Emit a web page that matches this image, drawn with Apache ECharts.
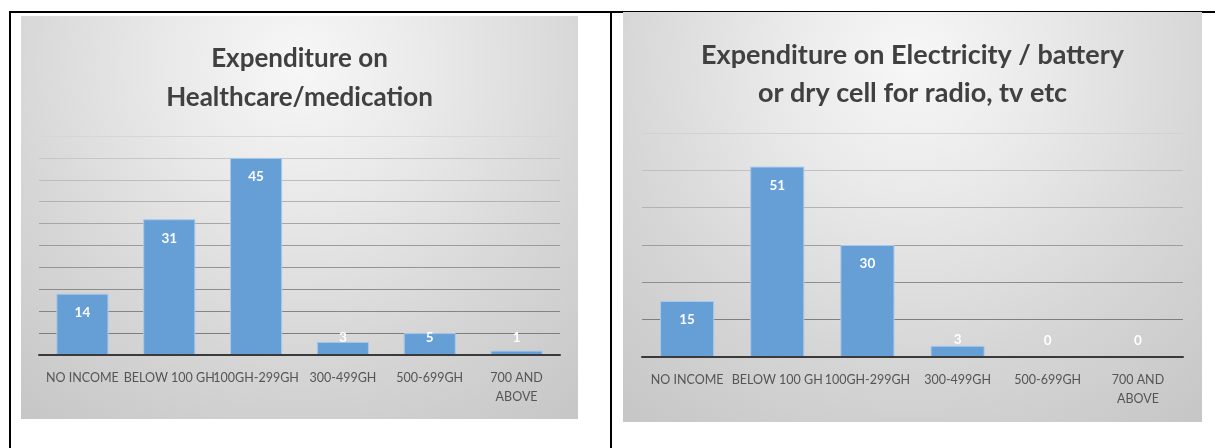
<!DOCTYPE html>
<html>
<head>
<meta charset="utf-8">
<title>Household expenditure by income group</title>
<script src="https://cdn.jsdelivr.net/npm/echarts@6/dist/echarts.min.js"></script>
<style>
  html, body { margin: 0; padding: 0; background: #ffffff; }
  body { width: 1215px; height: 448px; position: relative; overflow: hidden; }
  .rule { position: absolute; background: #000000; }
  .chart { position: absolute; }
  #healthcare { left: 21px; top: 16px; width: 557px; height: 403px; }
  #electricity { left: 623px; top: 12px; width: 579px; height: 410px; }
</style>
</head>
<body>
  <!-- table rules around the two cells -->
  <div class="rule" style="left:9px; top:11px; width:1206px; height:2px;"></div>
  <div class="rule" style="left:9px; top:11px; width:2px; height:437px;"></div>
  <div class="rule" style="left:610px; top:11px; width:2px; height:437px;"></div>

  <div id="healthcare" class="chart"></div>
  <div id="electricity" class="chart"></div>

<script>
// Income groups (shared by both charts)
const categories = ['NO INCOME', 'BELOW 100 GH', '100GH-299GH', '300-499GH', '500-699GH', '700 AND\nABOVE'];

// Expenditure on healthcare / medication
const healthcareTitle = 'Expenditure on\nHealthcare/medication';
const healthcareValues = [14, 31, 45, 3, 5, 1];
const healthcareScale = [0, 50, 5];   // min, max, step

// Expenditure on electricity / battery / dry cells
const electricityTitle = 'Expenditure on Electricity / battery\nor dry cell for radio, tv etc';
const electricityValues = [15, 51, 30, 3, 0, 0];
const electricityScale = [0, 60, 10];

function buildOption(cfg) {
  const [min, max, step] = cfg.scale;
  // short bars keep their value label just above the baseline
  const data = cfg.values.map(function (v) {
    return {
      value: v,
      label: v < max * 0.16
        ? { position: 'insideBottom', distance: 9 }
        : { position: 'insideTop', distance: 11 }
    };
  });
  return {
    animation: false,
    backgroundColor: {
      type: 'radial', x: 0.5, y: 0.12, r: 1.12,
      colorStops: [
        { offset: 0, color: '#f7f7f7' },
        { offset: 0.3, color: '#e9e9e9' },
        { offset: 0.65, color: '#d6d6d6' },
        { offset: 1, color: '#c6c6c6' }
      ]
    },
    title: {
      text: cfg.title,
      left: 'center',
      top: cfg.titleTop,
      textStyle: {
        fontFamily: 'Lato', fontWeight: 'bold',
        fontSize: cfg.titleSize, lineHeight: cfg.titleLine,
        color: '#404040'
      }
    },
    grid: cfg.grid,
    xAxis: {
      type: 'category',
      data: categories,
      z: 5,
      axisLine: { lineStyle: { color: '#3a3a3a', width: 2 } },
      axisTick: { show: false },
      axisLabel: {
        interval: 0, color: '#555555', fontFamily: 'Lato',
        fontSize: 12.5, lineHeight: 19, margin: 13
      }
    },
    yAxis: {
      type: 'value', min: min, max: max, interval: step,
      axisLabel: { show: false },
      axisLine: { show: false },
      axisTick: { show: false },
      splitLine: { lineStyle: { color: cfg.gridColors, width: 1.2 } }
    },
    series: [{
      type: 'bar',
      data: data,
      barWidth: '60%',
      itemStyle: { color: '#659fd6', borderColor: '#a9c9ea', borderWidth: 1 },
      label: {
        show: true, color: '#ffffff', fontFamily: 'Lato', fontWeight: 'bold',
        fontSize: 13.5, lineHeight: 16
      }
    }]
  };
}

const healthChart = echarts.init(document.getElementById('healthcare'), null, { renderer: 'canvas' });
healthChart.setOption(buildOption({
  title: healthcareTitle,
  values: healthcareValues,
  scale: healthcareScale,
  titleTop: 18, titleSize: 26, titleLine: 39,
  grid: { left: 18, right: 18, top: 120, bottom: 64 },
  gridColors: ['#7a7a7a', '#7e7e7e', '#858585', '#8c8c8c', '#949494', '#9c9c9c',
               '#a6a6a6', '#b2b2b2', '#bdbdbd', '#c7c7c7', '#d6d6d6']
}));

const elecChart = echarts.init(document.getElementById('electricity'), null, { renderer: 'canvas' });
elecChart.setOption(buildOption({
  title: electricityTitle,
  values: electricityValues,
  scale: electricityScale,
  titleTop: 19, titleSize: 27, titleLine: 38.5,
  grid: { left: 19, right: 19, top: 121, bottom: 65 },
  gridColors: ['#7a7a7a', '#7e7e7e', '#8e8e8e', '#9e9e9e', '#b2b2b2', '#c0c0c0', '#d2d2d2']
}));
</script>
</body>
</html>
